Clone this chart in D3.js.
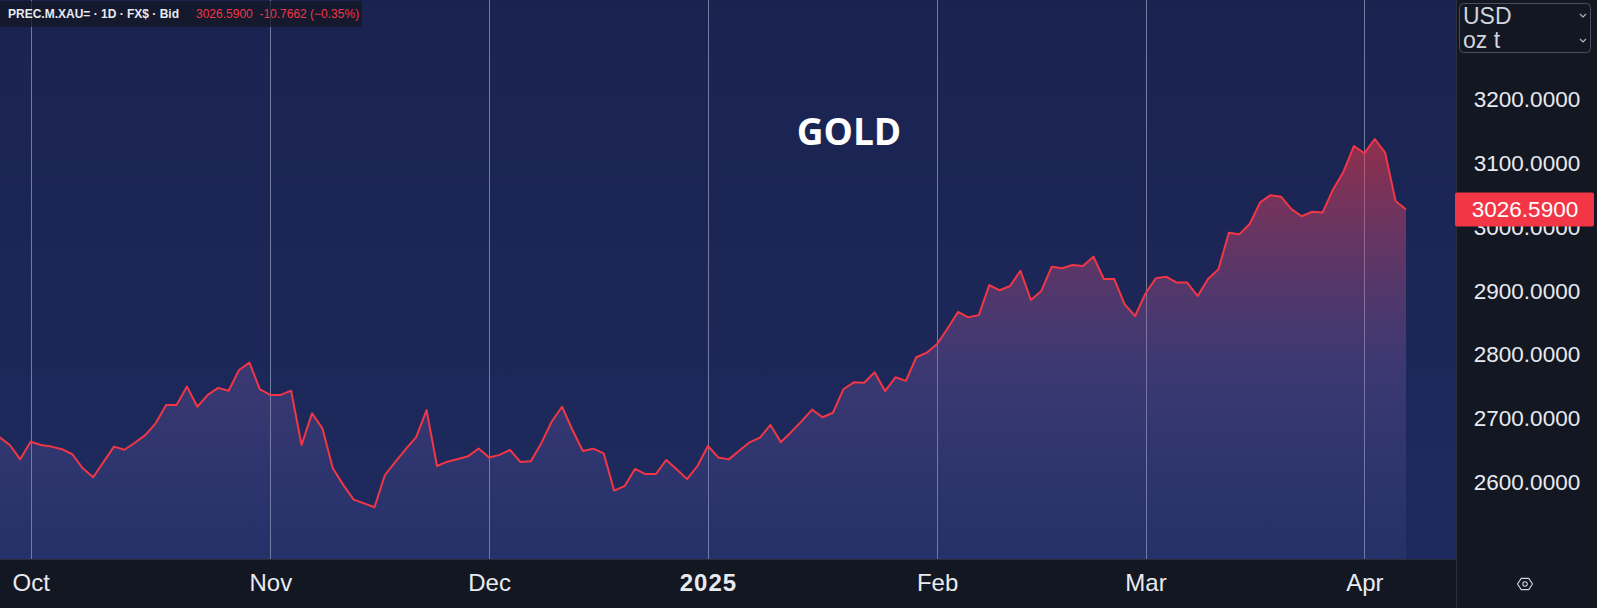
<!DOCTYPE html>
<html>
<head>
<meta charset="utf-8">
<script src="https://cdn.jsdelivr.net/npm/d3@7/dist/d3.min.js"></script>
<style>
  html, body { margin: 0; padding: 0; background: #131722; overflow: hidden; }
  svg { display: block; }
</style>
</head>
<body>
<svg id="chart" width="1597" height="608"></svg>
<script>
// ---------------- DATA ----------------
const monthKeys = ["2024-09","2024-10","2024-11","2024-12","2025-01","2025-02","2025-03","2025-04"];
const tradingDays = [
  [26,27,30],
  [1,2,3,4,7,8,9,10,11,14,15,16,17,18,21,22,23,24,25,28,29,30,31],
  [1,4,5,6,7,8,11,12,13,14,15,18,19,20,21,22,25,26,27,28,29],
  [2,3,4,5,6,9,10,11,12,13,16,17,18,19,20,23,24,26,27,30,31],
  [2,3,6,7,8,9,10,13,14,15,16,17,20,21,22,23,24,27,28,29,30,31],
  [3,4,5,6,7,10,11,12,13,14,17,18,19,20,21,24,25,26,27,28],
  [3,4,5,6,7,10,11,12,13,14,17,18,19,20,21,24,25,26,27,28,31],
  [1,2,3,4,7]
];
const priceSep = [2670, 2657.5, 2635];
const priceOct = [2662.7, 2657.5, 2655, 2651, 2643, 2621, 2607, 2631, 2655, 2650, 2661, 2673, 2691.5, 2720, 2720, 2749, 2717.5, 2736, 2747, 2742.6, 2775, 2786.5, 2744.8];
const priceNov = [2736, 2736, 2742.6, 2657.5, 2707, 2683.6, 2621, 2595, 2572, 2566, 2560, 2610.5, 2631, 2651, 2670, 2712, 2624.6, 2631.4, 2635.6, 2640, 2652];
const priceDec = [2638, 2642, 2650, 2631, 2632, 2660, 2694, 2717.5, 2681, 2648, 2651.7, 2644.5, 2586, 2593, 2620, 2612, 2612, 2634, 2619.4, 2604, 2624.6];
const priceJan = [2656, 2638, 2635, 2648.6, 2661.7, 2669, 2689, 2662, 2678, 2695, 2713, 2701, 2708, 2744.8, 2755.7, 2755, 2771.4, 2742, 2763.6, 2758, 2795, 2802];
const priceFeb = [2815.8, 2840, 2866, 2857.6, 2861, 2908, 2900, 2906.6, 2930.6, 2884.7, 2899, 2937, 2934.4, 2939.5, 2938, 2952.6, 2917.6, 2917.6, 2878, 2859.6];
const priceMar = [2895, 2919, 2921, 2912, 2912, 2891, 2917.6, 2933, 2990, 2987.6, 3003.8, 3037.8, 3049, 3046.6, 3027, 3016, 3023, 3022, 3058, 3085.7, 3126];
const priceApr = [3114.6, 3137, 3115.5, 3040, 3026.59];
const monthLabels = ["Oct","Nov","Dec","2025","Feb","Mar","Apr"];
const monthLabelBold = [false,false,false,true,false,false,false];
const yTicks = [2600, 2700, 2800, 2900, 3000, 3100, 3200];
const lastPrice = 3026.59;
const symbolText = "PREC.M.XAU= · 1D · FX$ · Bid";
const quoteText = "3026.5900  -10.7662 (\u22120.35%)";
const titleText = "GOLD";
const unitTop = "USD", unitBottom = "oz t";

// ---------------- BUILD ----------------
const monthPrices = [priceSep, priceOct, priceNov, priceDec, priceJan, priceFeb, priceMar, priceApr];
const data = [];
const monthStartIdx = [];
monthKeys.forEach((mk, mi) => {
  if (mi > 0) monthStartIdx.push(data.length);
  tradingDays[mi].forEach((d, di) => {
    data.push({ i: data.length, date: mk + "-" + String(d).padStart(2, "0"), v: monthPrices[mi][di] });
  });
});

const W = 1597, H = 608;
const plotRight = 1456, plotBottom = 559;
const svg = d3.select("#chart");

const x = d3.scaleLinear().domain([0, data.length - 1]).range([-0.6, 1406]);
const y = d3.scaleLinear().domain([2600, 3200]).range([481.7, 98.8]);

const defs = svg.append("defs");
const bg = defs.append("linearGradient").attr("id", "bg").attr("x1", 0).attr("x2", 0).attr("y1", 0).attr("y2", 1);
bg.append("stop").attr("offset", 0).attr("stop-color", "#1a2350");
bg.append("stop").attr("offset", 1).attr("stop-color", "#1e2a5e");

const maxV = d3.max(data, d => d.v);
const fillG = defs.append("linearGradient").attr("id", "fillG")
  .attr("gradientUnits", "userSpaceOnUse")
  .attr("x1", 0).attr("x2", 0).attr("y1", y(maxV)).attr("y2", plotBottom);
fillG.append("stop").attr("offset", 0).attr("stop-color", "#f23645").attr("stop-opacity", 0.55);
fillG.append("stop").attr("offset", 0.55).attr("stop-color", "#8a62b0").attr("stop-opacity", 0.28);
fillG.append("stop").attr("offset", 1).attr("stop-color", "#6470c8").attr("stop-opacity", 0.1);

defs.append("clipPath").attr("id", "plotClip").append("rect")
  .attr("x", 0).attr("y", 0).attr("width", plotRight).attr("height", plotBottom);

// backgrounds
svg.append("rect").attr("x", 0).attr("y", 0).attr("width", W).attr("height", H).attr("fill", "#131722");
svg.append("rect").attr("x", 0).attr("y", 0).attr("width", plotRight).attr("height", plotBottom).attr("fill", "url(#bg)");

const plot = svg.append("g").attr("clip-path", "url(#plotClip)");

// vertical month grid lines
plot.selectAll("line.grid").data(monthStartIdx).enter().append("line")
  .attr("class", "grid")
  .attr("x1", d => Math.round(x(d)) + 0.5).attr("x2", d => Math.round(x(d)) + 0.5)
  .attr("y1", 0).attr("y2", plotBottom)
  .attr("stroke", "#8a92b2").attr("stroke-opacity", 0.8).attr("stroke-width", 1);

// area + line
const area = d3.area().x(d => x(d.i)).y0(plotBottom).y1(d => y(d.v));
const line = d3.line().x(d => x(d.i)).y(d => y(d.v));
plot.append("path").datum(data).attr("d", area).attr("fill", "url(#fillG)");
plot.append("path").datum(data).attr("d", line)
  .attr("fill", "none").attr("stroke", "#f23645").attr("stroke-width", 2)
  .attr("stroke-linejoin", "round");

// title
svg.append("text").attr("x", 849).attr("y", 145).attr("text-anchor", "middle")
  .attr("font-family", "'Open Sans', 'Noto Sans', sans-serif").attr("font-weight", 700)
  .attr("font-size", 37).attr("fill", "#ffffff").text(titleText);

// header legend
svg.append("rect").attr("x", 0).attr("y", 1).attr("width", 362).attr("height", 26)
  .attr("fill", "#131722").attr("fill-opacity", 0.75);
const hdr = svg.append("text").attr("x", 8).attr("y", 18)
  .attr("font-family", "'Liberation Sans', Arial, sans-serif").attr("font-size", 12);
hdr.append("tspan").attr("fill", "#e8eaf0").attr("font-weight", 600).text(symbolText);
hdr.append("tspan").attr("x", 196).attr("fill", "#f23645").attr("xml:space", "preserve").text(quoteText);

// time axis
svg.append("line").attr("x1", 0).attr("x2", W).attr("y1", plotBottom + 0.5).attr("y2", plotBottom + 0.5)
  .attr("stroke", "#2a2e39");
const xAxis = d3.axisBottom(x).tickValues(monthStartIdx)
  .tickFormat((d, k) => monthLabels[k]).tickSize(0).tickPadding(0);
const gx = svg.append("g").attr("transform", `translate(0,${plotBottom})`).call(xAxis);
gx.select(".domain").remove();
gx.selectAll("text")
  .attr("y", 32).attr("dy", 0)
  .attr("font-family", (d, k) => monthLabelBold[k] ? "'Liberation Sans', Arial, sans-serif" : "'Liberation Sans Narrow', 'Liberation Sans', sans-serif")
  .attr("letter-spacing", (d, k) => monthLabelBold[k] ? 1 : 0)
  .attr("font-size", 24).attr("fill", "#e8eaf0")
  .attr("font-weight", (d, k) => monthLabelBold[k] ? 700 : 400);

// right axis panel
svg.append("rect").attr("x", plotRight).attr("y", 0).attr("width", W - plotRight).attr("height", H).attr("fill", "#131722");
svg.append("line").attr("x1", plotRight + 0.5).attr("x2", plotRight + 0.5).attr("y1", 0).attr("y2", H)
  .attr("stroke", "#2a2e39");

const yAxis = d3.axisRight(y).tickValues(yTicks).tickFormat(d3.format(".4f")).tickSize(0).tickPadding(0);
const gy = svg.append("g").attr("transform", `translate(${plotRight},0)`).call(yAxis);
gy.select(".domain").remove();
gy.selectAll("text")
  .attr("x", 71).attr("text-anchor", "middle").attr("dy", "0.35em")
  .attr("font-family", "'Liberation Sans', Arial, sans-serif")
  .attr("font-size", 22.5).attr("fill", "#e8eaf0");

// last price label
const lp = svg.append("g").attr("transform", `translate(0,${y(lastPrice)})`);
lp.append("rect").attr("x", 1455).attr("y", -17).attr("width", 139).attr("height", 34).attr("rx", 2).attr("fill", "#f23645");
lp.append("text").attr("x", 1525).attr("y", 0).attr("dy", "0.35em").attr("text-anchor", "middle")
  .attr("font-family", "'Liberation Sans', Arial, sans-serif").attr("font-size", 22.5)
  .attr("fill", "#ffffff").text(d3.format(".4f")(lastPrice));

// unit box
svg.append("rect").attr("x", 1459.5).attr("y", 3.5).attr("width", 131).attr("height", 49).attr("rx", 4)
  .attr("fill", "none").attr("stroke", "#4a4f5e");
svg.append("text").attr("x", 1463).attr("y", 24).attr("font-family", "'Liberation Sans', Arial, sans-serif")
  .attr("font-size", 23).attr("fill", "#d1d4dc").text(unitTop);
svg.append("text").attr("x", 1463).attr("y", 48).attr("font-family", "'Liberation Sans', Arial, sans-serif")
  .attr("font-size", 23).attr("fill", "#d1d4dc").text(unitBottom);
[15, 40].forEach(cy => {
  svg.append("path").attr("d", `M${1580},${cy - 1} L${1583},${cy + 2} L${1586},${cy - 1}`)
    .attr("fill", "none").attr("stroke", "#b2b5be").attr("stroke-width", 1.2);
});

// bottom-right settings icon
const ic = svg.append("g").attr("transform", "translate(1525,584)").attr("fill", "none").attr("stroke", "#d1d4dc").attr("stroke-width", 1.1);
ic.append("path").attr("d", d3.range(6).map((k, j) => {
  const a = Math.PI / 3 * k;
  return (j ? "L" : "M") + (7.5 * Math.cos(a)).toFixed(2) + "," + (6.5 * Math.sin(a)).toFixed(2);
}).join("") + "Z");
ic.append("circle").attr("r", 2.2);
svg.append("line").attr("x1", plotRight + 0.5).attr("x2", plotRight + 0.5).attr("y1", plotBottom).attr("y2", H).attr("stroke", "#2a2e39");
</script>
</body>
</html>
